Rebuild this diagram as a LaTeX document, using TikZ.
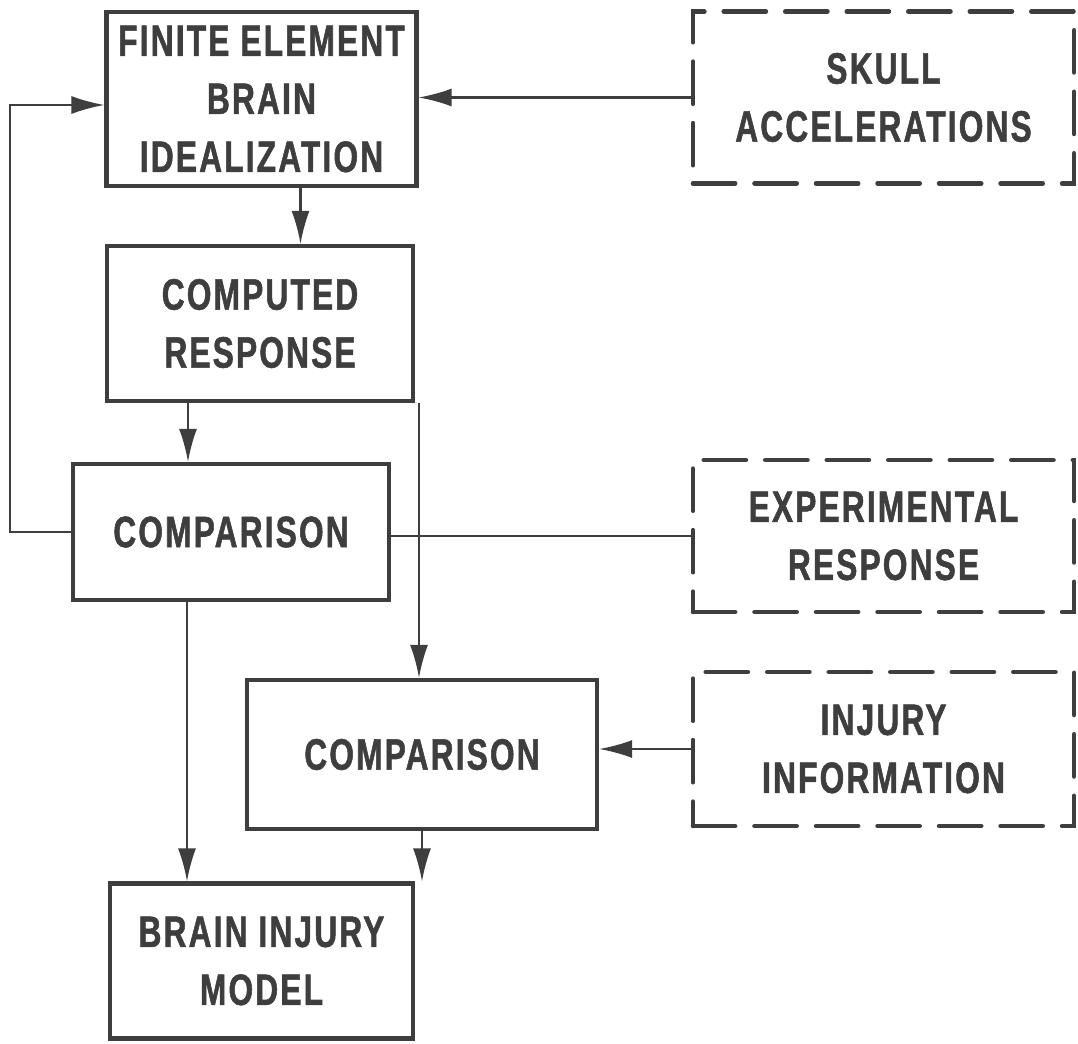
\documentclass[tikz,border=0pt]{standalone}
\usepackage{tikz}
\usetikzlibrary{arrows.meta,positioning,calc}
\usepackage{xcolor}
\usepackage{fontspec}
\newfontfamily\boxfont[FakeStretch=0.72,LetterSpace=5,FakeBold=1.2]{Liberation Sans}
\definecolor{inkGray}{RGB}{62,62,62}
\tikzset{
    every node/.append style={align=center},
    box/.style={rectangle,draw=inkGray,line width=1.2pt,text=inkGray,
        font=\boxfont\bfseries\fontsize{12.5}{16.5}\selectfont},
    extbox/.style={box,line width=1.3pt,line cap=round,dash pattern=on 12pt off 5.5pt},
    arr/.style={-{Latex[length=3.3mm,width=1.8mm]},draw=inkGray,line width=0.6pt},
    line/.style={draw=inkGray,line width=0.6pt}
}
\begin{document}
\begin{tikzpicture}
    \useasboundingbox (0,0) rectangle (10.78,-10.43);
    % model chain
    \node[box,minimum width=3.03cm,minimum height=1.74cm] (fe)       at (2.615,-0.99)  {FINITE ELEMENT\\BRAIN\\IDEALIZATION};
    \node[box,minimum width=3.06cm,minimum height=1.55cm] (computed) at (2.60,-3.235)  {COMPUTED\\RESPONSE};
    \node[box,minimum width=3.16cm,minimum height=1.36cm] (comp1)    at (2.31,-5.32)   {COMPARISON};
    \node[box,minimum width=3.50cm,minimum height=1.49cm] (comp2)    at (4.22,-7.545)  {COMPARISON};
    \node[box,minimum width=3.03cm,minimum height=1.55cm] (brain)    at (2.615,-9.61)  {BRAIN INJURY\\MODEL};
    % external data
    \node[extbox,minimum width=3.81cm,minimum height=1.72cm] (skull)  at (8.835,-0.975) {SKULL\\ACCELERATIONS};
    \node[extbox,minimum width=3.81cm,minimum height=1.52cm] (exper)  at (8.835,-5.36)  {EXPERIMENTAL\\RESPONSE};
    \node[extbox,minimum width=3.81cm,minimum height=1.54cm] (injury) at (8.835,-7.49)  {INJURY\\INFORMATION};

    \draw[arr]  (skull.west) -- (skull.west -| fe.east);
    \draw[arr]  ([xshift=0.39cm]fe.south) -- ([xshift=0.39cm]fe.south |- computed.north);
    \draw[arr]  ([xshift=-0.72cm]computed.south) -- ([xshift=-0.72cm]computed.south |- comp1.north);
    \draw[arr]  ([xshift=1.59cm]computed.south) -- ([xshift=1.59cm]computed.south |- comp2.north);
    \draw[line] (exper.west) -- (exper.west -| comp1.east);
    \draw[arr]  (comp1.west) -- ++(-0.61,0) |- ([yshift=-0.06cm]fe.west);
    \draw[arr]  ([xshift=-0.44cm]comp1.south) -- ([xshift=-0.44cm]comp1.south |- brain.north);
    \draw[arr]  (comp2.south) -- (comp2.south |- brain.north);
    \draw[arr]  (injury.west) -- (injury.west -| comp2.east);
\end{tikzpicture}
\end{document}
